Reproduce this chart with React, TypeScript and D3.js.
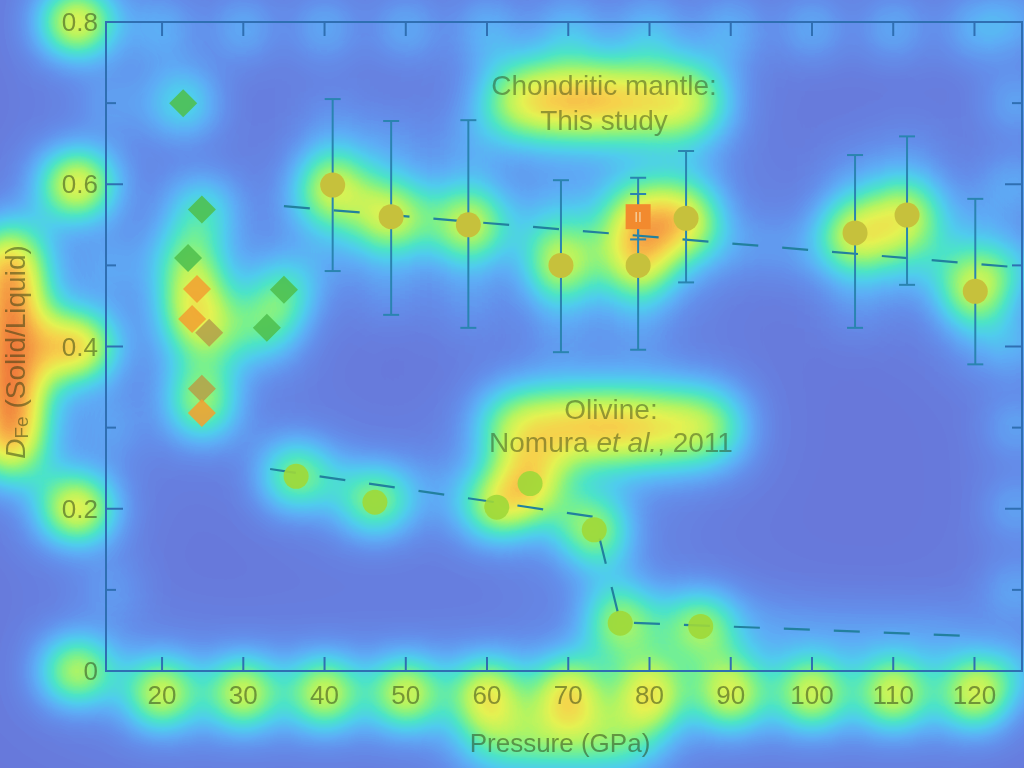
import * as d3 from "d3"

// axis ticks
const xTicks = [20, 30, 40, 50, 60, 70, 80, 90, 100, 110, 120]
const yTicks = [0, 0.2, 0.4, 0.6, 0.8]
const yMinor = [0.1, 0.3, 0.5, 0.7]

// chondritic mantle, this study (circles + error bars)
const chondP = [41.0, 48.2, 57.7, 69.1, 78.6, 84.5, 105.3, 111.7, 120.1]
const chondD = [0.599, 0.560, 0.550, 0.500, 0.500, 0.558, 0.540, 0.562, 0.468]
const chondHi = [0.705, 0.678, 0.679, 0.605, 0.608, 0.641, 0.636, 0.659, 0.582]
const chondLo = [0.493, 0.439, 0.423, 0.393, 0.396, 0.479, 0.423, 0.476, 0.378]

// single square point
const sqP = [78.6]
const sqD = [0.560]
const sqHi = [0.588]
const sqLo = [0.532]

// earlier studies (diamonds)
const otherP = [22.6, 24.9, 23.2, 24.3, 23.7, 25.8, 24.9, 24.9, 32.9, 35.0]
const otherD = [0.700, 0.569, 0.509, 0.471, 0.434, 0.417, 0.348, 0.318, 0.423, 0.470]
const otherSet = ["a", "a", "a", "b", "b", "c", "c", "b", "a", "a"]

// olivine, Nomura et al. 2011
const olivP = [36.5, 46.2, 61.2, 65.3, 73.2, 76.4, 86.3]
const olivD = [0.240, 0.208, 0.202, 0.231, 0.174, 0.059, 0.055]

// dashed trend lines
const chondFitP = [35, 126]
const chondFitD = [0.573, 0.497]
const olivFitP = [33.3, 73.2, 76.4, 120]
const olivFitD = [0.249, 0.190, 0.060, 0.043]

// heat colour ramp (0 -> 1)
const ramp = [
  [104, 120, 218], [100, 142, 234], [94, 172, 246], [80, 204, 238], [76, 228, 200],
  [120, 241, 142], [182, 245, 96], [228, 242, 82], [246, 210, 76], [246, 168, 70], [240, 126, 60],
]
const setColor: Record<string, string> = { a: "#4fbf4e", b: "#f0a232", c: "#b4a24a" }

const font = "'Liberation Sans', Arial, Helvetica, sans-serif"
const ink = "#283810"

export default function App() {
  const x = d3.scaleLinear().domain([13.1, 125.85]).range([106, 1022])
  const y = d3.scaleLinear().domain([0, 0.8]).range([671, 22])
  const line = d3.line<[number, number]>().x(d => x(d[0])).y(d => y(d[1]))
  const chondFit = line(chondFitP.map((p, i) => [p, chondFitD[i]]))!
  const olivFit = line(olivFitP.map((p, i) => [p, olivFitD[i]]))!
  const [x0, x1] = x.range()
  const [yb, yt] = y.range()
  const tv = (k: number) => ramp.map(c => (c[k] / 255).toFixed(3)).join(" ")
  const diamond = (cx: number, cy: number, s: number) =>
    `M${cx},${cy - s}L${cx + s},${cy}L${cx},${cy + s}L${cx - s},${cy}Z`
  const G = 2

  return (
    <svg width={1024} height={768} style={{ position: "fixed", left: 0, top: 0 }} fontFamily={font}>
      <defs>
        <filter id="heat" filterUnits="userSpaceOnUse" x={0} y={0} width={1024} height={768} colorInterpolationFilters="sRGB">
          <feGaussianBlur in="SourceAlpha" stdDeviation={24} result="b1" />
          <feGaussianBlur in="SourceAlpha" stdDeviation={50} result="b2" />
          <feComposite in="b1" in2="b2" operator="arithmetic" k1={0} k2={0.8} k3={0.4} k4={0} />
          <feColorMatrix type="matrix" values={`0 0 0 ${G} 0  0 0 0 ${G} 0  0 0 0 ${G} 0  0 0 0 0 1`} />
          <feComponentTransfer>
            <feFuncR type="table" tableValues={tv(0)} />
            <feFuncG type="table" tableValues={tv(1)} />
            <feFuncB type="table" tableValues={tv(2)} />
          </feComponentTransfer>
        </filter>
      </defs>

      {/* heat layer */}
      <g filter="url(#heat)">
        {yTicks.map(t => <ellipse key={"hy" + t} cx={77} cy={y(t)} rx={27} ry={20} fillOpacity={t === 0 ? 0.8 : 0.95} />)}
        {xTicks.map(t => <ellipse key={"hx" + t} cx={x(t)} cy={693} rx={21} ry={24} fillOpacity={0.9} />)}
        {xTicks.map(t => <ellipse key={"htx" + t} cx={x(t)} cy={yt + 6} rx={8} ry={14} fillOpacity={1} />)}
        {yTicks.concat(yMinor).map(t => <ellipse key={"hr" + t} cx={x1 - 6} cy={y(t)} rx={14} ry={8} fillOpacity={0.9} />)}
        {yMinor.map(t => <ellipse key={"hl" + t} cx={x0 + 6} cy={y(t)} rx={12} ry={7} fillOpacity={0.8} />)}
        <rect x={466} y={724} width={190} height={36} rx={12} fillOpacity={0.38} />
        <rect x={-15} y={232} width={48} height={240} rx={16} fillOpacity={0.66} />
        <ellipse cx={8} cy={400} rx={20} ry={45} fillOpacity={0.12} />
        <rect x={488} y={70} width={234} height={62} rx={20} fillOpacity={0.44} />
        <ellipse cx={575} cy={100} rx={45} ry={18} fillOpacity={0.16} />
        <rect x={486} y={396} width={252} height={62} rx={20} fillOpacity={0.42} />
        <ellipse cx={610} cy={425} rx={45} ry={18} fillOpacity={0.16} />
        {chondP.map((p, i) => <line key={"he" + i} x1={x(p)} x2={x(p)} y1={y(chondHi[i])} y2={y(chondLo[i])} stroke="#000" strokeWidth={6} strokeOpacity={0.6} />)}
        <path d={chondFit} fill="none" stroke="#000" strokeWidth={6} strokeOpacity={0.55} />
        <path d={olivFit} fill="none" stroke="#000" strokeWidth={6} strokeOpacity={0.5} />
        {chondP.map((p, i) => <circle key={"hc" + i} cx={x(p)} cy={y(chondD[i])} r={22} fillOpacity={0.74} />)}
        {olivP.map((p, i) => <circle key={"ho" + i} cx={x(p)} cy={y(olivD[i])} r={22} fillOpacity={0.68} />)}
        {otherP.map((p, i) => <circle key={"hd" + i} cx={x(p)} cy={y(otherD[i])} r={19} fillOpacity={0.62} />)}
        {sqP.map((p, i) => <rect key={"hs" + i} x={x(p) - 20} y={y(sqD[i]) - 24} width={40} height={48} rx={14} fillOpacity={0.62} />)}
      </g>

      {/* frame */}
      <g stroke="#2f6fb2" strokeWidth={2} fill="none">
        <path d={`M${x0},${yt}V${yb}H${x1}V${yt}Z`} />
        {xTicks.map(t => <line key={"tb" + t} x1={x(t)} x2={x(t)} y1={yb} y2={yb - 14} />)}
        {xTicks.map(t => <line key={"tt" + t} x1={x(t)} x2={x(t)} y1={yt} y2={yt + 14} />)}
        {yTicks.map(t => <line key={"tl" + t} x1={x0} x2={x0 + 17} y1={y(t)} y2={y(t)} />)}
        {yMinor.map(t => <line key={"tm" + t} x1={x0} x2={x0 + 10} y1={y(t)} y2={y(t)} />)}
        {yTicks.map(t => <line key={"tr" + t} x1={x1} x2={x1 - 17} y1={y(t)} y2={y(t)} />)}
        {yMinor.map(t => <line key={"tn" + t} x1={x1} x2={x1 - 10} y1={y(t)} y2={y(t)} />)}
      </g>

      {/* tick labels */}
      <g fill={ink} fillOpacity={0.5} fontSize={26}>
        {yTicks.map(t => <text key={"ly" + t} x={98} y={y(t) + 9} textAnchor="end">{t === 0 ? "0" : t.toFixed(1)}</text>)}
        {xTicks.map(t => <text key={"lx" + t} x={x(t)} y={704} textAnchor="middle">{t}</text>)}
        <text x={560} y={752} textAnchor="middle">Pressure (GPa)</text>
        <text transform="translate(25,352) rotate(-90)" textAnchor="middle" fontSize={28}>
          <tspan fontStyle="italic">D</tspan>
          <tspan fontSize={19} dy={3}>Fe</tspan>
          <tspan dy={-3}> (Solid/Liquid)</tspan>
        </text>
      </g>

      {/* trend lines */}
      <path d={chondFit} fill="none" stroke="#22809e" strokeWidth={2.2} strokeDasharray="26 24" />
      <path d={olivFit} fill="none" stroke="#22809e" strokeWidth={2.2} strokeDasharray="26 24" />

      {/* error bars */}
      <g stroke="#2a84b0" strokeWidth={2}>
        {chondP.map((p, i) => (
          <g key={"eb" + i}>
            <line x1={x(p)} x2={x(p)} y1={y(chondHi[i])} y2={y(chondLo[i])} />
            <line x1={x(p) - 8} x2={x(p) + 8} y1={y(chondHi[i])} y2={y(chondHi[i])} />
            <line x1={x(p) - 8} x2={x(p) + 8} y1={y(chondLo[i])} y2={y(chondLo[i])} />
          </g>
        ))}
        {sqP.map((p, i) => (
          <g key={"sb" + i}>
            <line x1={x(p)} x2={x(p)} y1={y(sqHi[i])} y2={y(sqLo[i])} />
            <line x1={x(p) - 8} x2={x(p) + 8} y1={y(sqHi[i])} y2={y(sqHi[i])} />
            <line x1={x(p) - 8} x2={x(p) + 8} y1={y(sqLo[i])} y2={y(sqLo[i])} />
          </g>
        ))}
      </g>

      {/* markers */}
      {otherP.map((p, i) => <path key={"d" + i} d={diamond(x(p), y(otherD[i]), 14)} fill={setColor[otherSet[i]]} fillOpacity={0.88} />)}
      {chondP.map((p, i) => <circle key={"c" + i} cx={x(p)} cy={y(chondD[i])} r={12.5} fill="#c6c13c" />)}
      {olivP.map((p, i) => <circle key={"o" + i} cx={x(p)} cy={y(olivD[i])} r={12.5} fill="#9ed838" fillOpacity={0.9} />)}
      {sqP.map((p, i) => (
        <g key={"s" + i}>
          <rect x={x(p) - 12.5} y={y(sqD[i]) - 12.5} width={25} height={25} fill="#f28a2e" />
          <text x={x(p)} y={y(sqD[i]) + 5} textAnchor="middle" fontSize={14} fill="#f6d2a0">II</text>
        </g>
      ))}

      {/* annotations */}
      <g fill={ink} fillOpacity={0.45} fontSize={28} textAnchor="middle">
        <text x={604} y={95}>Chondritic mantle:</text>
        <text x={604} y={130}>This study</text>
        <text x={611} y={419}>Olivine:</text>
        <text x={611} y={452}>Nomura <tspan fontStyle="italic">et al.</tspan>, 2011</text>
      </g>
    </svg>
  )
}
